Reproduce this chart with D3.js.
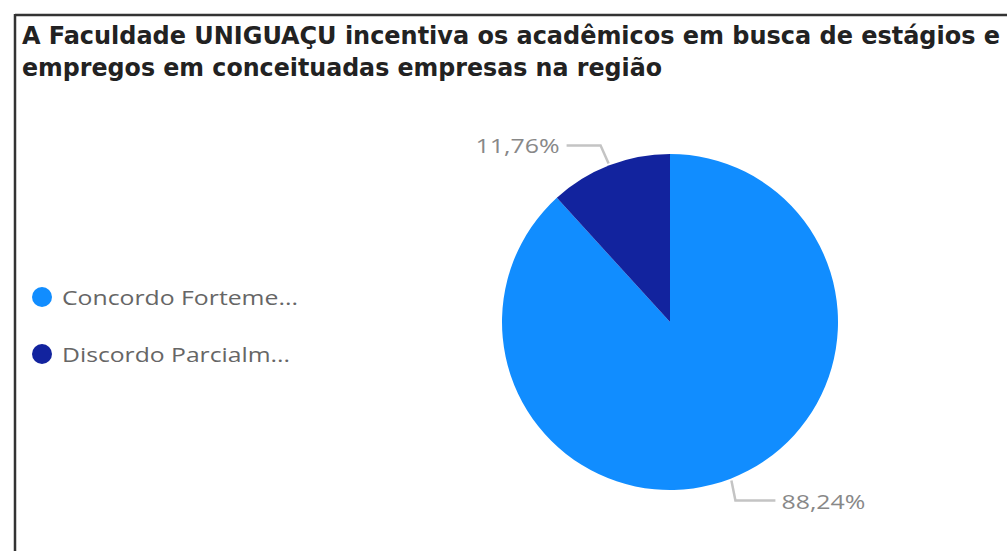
<!DOCTYPE html>
<html><head><meta charset="utf-8">
<script src="https://cdn.jsdelivr.net/npm/d3@7"></script>
<style>html,body{margin:0;padding:0;background:#fff;}svg{display:block;}</style>
</head><body>
<svg id="c" width="1007" height="551"></svg>
<script>
const titleLines = ["A Faculdade UNIGUAÇU incentiva os acadêmicos em busca de estágios e", "empregos em conceituadas empresas na região"];
const categories = ["Concordo Forteme...", "Discordo Parcialm..."];
const values = [15, 2];
const percentLabels = ["88,24%", "11,76%"];
const colors = ["#118DFF", "#12239E"];

const svg = d3.select("#c");
// frame lines
svg.append("line").attr("x1",15).attr("x2",1007).attr("y1",15).attr("y2",15).attr("stroke","#333").attr("stroke-width",2.5);
svg.append("line").attr("x1",15).attr("x2",15).attr("y1",14).attr("y2",551).attr("stroke","#333").attr("stroke-width",2.5);

// title
const tw = [978, 640];
titleLines.forEach((t,i)=>{
  svg.append("text").attr("x",22).attr("y",44+i*32).text(t)
    .attr("font-family","'DejaVu Sans Condensed','Liberation Sans Narrow',sans-serif")
    .attr("font-weight",600)
    .attr("font-size",25).attr("fill","#222")
    .attr("textLength",tw[i]).attr("lengthAdjust","spacingAndGlyphs");
});

// legend
const lg = svg.append("g");
const legW = [236, 228];
categories.forEach((c,i)=>{
  const y = 297 + i*57;
  lg.append("circle").attr("cx",42).attr("cy",y).attr("r",10).attr("fill",colors[i]);
  lg.append("text").attr("x",62).attr("y",y+8).text(c)
    .attr("font-family","'Open Sans',sans-serif").attr("font-size",20).attr("fill","#666")
    .attr("textLength",legW[i]).attr("lengthAdjust","spacingAndGlyphs");
});

// pie
const cx = 670, cy = 322, R = 168;
const pie = d3.pie().sort(null).value(d=>d)(values);
const arc = d3.arc().innerRadius(0).outerRadius(R);
const g = svg.append("g").attr("transform",`translate(${cx},${cy})`);
g.selectAll("path").data(pie).join("path").attr("d",arc).attr("fill",(d,i)=>colors[i]);

// labels with leader lines
const edge = d3.arc().innerRadius(R+2).outerRadius(R+2);
pie.forEach((d,i)=>{
  const p = edge.centroid(d);
  const mid = (d.startAngle+d.endAngle)/2;
  const right = Math.sin(mid) > 0;
  const bottom = Math.cos(mid) < 0;
  const ey = p[1] + (bottom ? 20 : -18);
  const ex = p[0] + (right ? 4 : -8);
  const hx = ex + (right ? 40 : -34);
  g.append("polyline").attr("points",[[p[0],p[1]],[ex,ey],[hx,ey]].map(q=>q.join(",")).join(" "))
    .attr("fill","none").attr("stroke","#c4c4c4").attr("stroke-width",2.5);
  g.append("text").attr("x",hx + (right?6:-7)).attr("y",ey+8).text(percentLabels[i])
    .attr("text-anchor", right?"start":"end")
    .attr("font-family","'Open Sans',sans-serif").attr("font-size",20).attr("fill","#888")
    .attr("textLength",84).attr("lengthAdjust","spacingAndGlyphs");
});
</script>
</body></html>
